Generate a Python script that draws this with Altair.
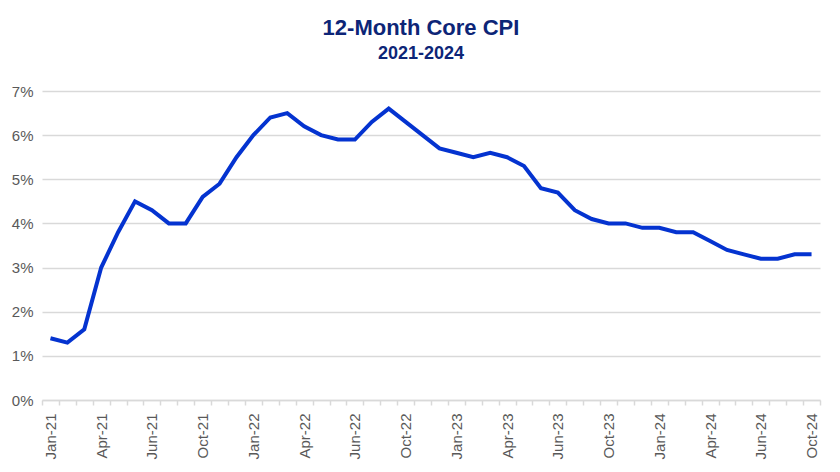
import altair as alt
import pandas as pd

months = [
    "Jan-21","Feb-21","Mar-21","Apr-21","May-21","Jun-21","Jul-21","Aug-21","Sep-21","Oct-21","Nov-21","Dec-21",
    "Jan-22","Feb-22","Mar-22","Apr-22","May-22","Jun-22","Jul-22","Aug-22","Sep-22","Oct-22","Nov-22","Dec-22",
    "Jan-23","Feb-23","Mar-23","Apr-23","May-23","Jun-23","Jul-23","Aug-23","Sep-23","Oct-23","Nov-23","Dec-23",
    "Jan-24","Feb-24","Mar-24","Apr-24","May-24","Jun-24","Jul-24","Aug-24","Sep-24","Oct-24",
]
core_cpi = [
    1.4, 1.3, 1.6, 3.0, 3.8, 4.5, 4.3, 4.0, 4.0, 4.6, 4.9, 5.5,
    6.0, 6.4, 6.5, 6.2, 6.0, 5.9, 5.9, 6.3, 6.6, 6.3, 6.0, 5.7,
    5.6, 5.5, 5.6, 5.5, 5.3, 4.8, 4.7, 4.3, 4.1, 4.0, 4.0, 3.9,
    3.9, 3.8, 3.8, 3.6, 3.4, 3.3, 3.2, 3.2, 3.3, 3.3,
]
# tick labels as shown in the chart (every third month)
tick_labels = {
    "Jan-21": "Jan-21", "Apr-21": "Apr-21", "Jul-21": "Jun-21", "Oct-21": "Oct-21",
    "Jan-22": "Jan-22", "Apr-22": "Apr-22", "Jul-22": "Jun-22", "Oct-22": "Oct-22",
    "Jan-23": "Jan-23", "Apr-23": "Apr-23", "Jul-23": "Jun-23", "Oct-23": "Oct-23",
    "Jan-24": "Jan-24", "Apr-24": "Apr-24", "Jul-24": "Jun-24", "Oct-24": "Oct-24",
}

df = pd.DataFrame({"month": months, "cpi": [v / 100 for v in core_cpi]})

label_expr = "(" + str(tick_labels).replace("'", '"') + ")[datum.value] || ''"

chart = alt.Chart(df).mark_line(color="#0433d0", strokeWidth=4, strokeJoin="miter").encode(
    x=alt.X("month:O", sort=months,
            scale=alt.Scale(type="band", paddingInner=0, paddingOuter=0),
            axis=alt.Axis(title=None, labelAngle=-90, labelAlign="right", labelBaseline="middle",
                          labelExpr=label_expr, labelFont="Liberation Sans", labelFontSize=15,
                          labelColor="#595959", labelPadding=8, tickBand="extent",
                          tickSize=5, tickColor="#d9d9d9", tickWidth=1.5,
                          domainColor="#d9d9d9", domainWidth=1.5, grid=False)),
    y=alt.Y("cpi:Q", scale=alt.Scale(domain=[0, 0.07]),
            axis=alt.Axis(title=None, format=".0%", values=[0, .01, .02, .03, .04, .05, .06, .07],
                          labelFont="Liberation Sans", labelFontSize=15, labelColor="#595959",
                          labelPadding=9, ticks=False, domain=False,
                          gridColor="#d9d9d9", gridWidth=1.5)),
).properties(
    width=778, height=309,
    autosize=alt.AutoSizeParams(type="none"),
    padding={"left": 34, "top": 83, "right": 12, "bottom": 60},
    title=alt.TitleParams(text="12-Month Core CPI", subtitle="2021-2024",
                          font="Liberation Sans", fontSize=22, fontWeight="bold", color="#0d2577",
                          subtitleFont="Liberation Sans", subtitleFontSize=18, subtitleFontWeight="bold",
                          subtitleColor="#0d2577", anchor="middle", offset=20, subtitlePadding=5,
                          dx=-10),
).configure_view(stroke=None)

chart.save("out.html", embed_options={"renderer": "svg", "actions": False})
